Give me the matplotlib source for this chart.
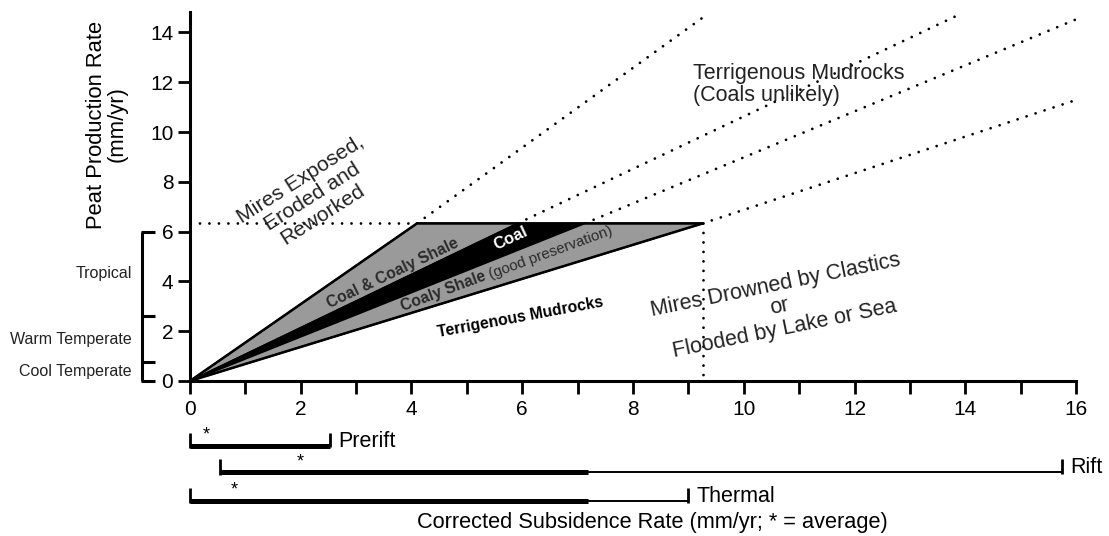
import matplotlib
matplotlib.use("Agg")
import matplotlib.pyplot as plt
import matplotlib.transforms as mtransforms
from matplotlib.patches import Polygon

plt.rcParams["font.family"] = ["Liberation Sans", "DejaVu Sans"]

# peat production ceiling and where each facies boundary (through origin) meets it
ceiling = 6.33
edge_x = [4.1, 5.92, 7.13, 9.26]
band_colors = ["#9a9a9a", "black", "#9a9a9a"]

# far ends of the dotted continuations (x, y)
dotted_end_x = [9.3, 13.95, 16.06, 16.06]
dotted_end_y = [14.66, 14.78, 14.58, 11.33]

# climate bracket on the left
climate_bounds = [0, 0.75, 2.6, 6.0]
climate_names = ["Cool Temperate", "Warm Temperate", "Tropical"]

# subsidence ranges below the x axis
settings = ["Prerift", "Rift", "Thermal"]
range_start = [0, 0.54, 0]
thick_end = [2.52, 7.18, 7.18]
range_end = [2.52, 15.75, 9.0]
average = [0.3, 2.0, 0.8]

x_ticks = list(range(0, 17))
y_ticks = [0, 2, 4, 6, 8, 10, 12, 14]


def draw_wedge(ax):
    for i, c in enumerate(band_colors):
        pts = [(0, 0), (edge_x[i], ceiling), (edge_x[i + 1], ceiling)]
        ax.add_patch(Polygon(pts, closed=True, facecolor=c, edgecolor="black",
                             linewidth=1.3, zorder=3))
    ax.add_patch(Polygon([(0, 0), (edge_x[0], ceiling), (edge_x[-1], ceiling)],
                         closed=True, fill=False, edgecolor="black",
                         linewidth=1.8, zorder=4))


def draw_dotted(ax):
    dot = dict(color="black", linestyle=(0, (0.01, 3.4)), linewidth=2.0,
               dash_capstyle="round", clip_on=False, zorder=2)
    ax.plot([0, edge_x[0]], [ceiling, ceiling], **dot)
    for x0, x1, y1 in zip(edge_x, dotted_end_x, dotted_end_y):
        ax.plot([x0, x1], [ceiling, y1], **dot)
    ax.plot([edge_x[-1], edge_x[-1]], [ceiling, 0], **dot)


def draw_climate(ax):
    bx, tick_x = -0.87, -0.63
    kw = dict(color="black", linewidth=2.2, clip_on=False, solid_capstyle="butt")
    ax.plot([bx, bx], [climate_bounds[0], climate_bounds[-1]], **kw)
    for b in climate_bounds:
        ax.plot([bx - 0.02, tick_x], [b, b], **kw)
    for lo, hi, name in zip(climate_bounds[:-1], climate_bounds[1:], climate_names):
        ax.text(-1.05, (lo + hi) / 2, name, ha="right", va="center",
                fontsize=11.5, color="#222222")


def draw_ranges(ax):
    trans = mtransforms.blended_transform_factory(ax.transData, ax.transAxes)
    rows = [-0.176, -0.248, -0.326]
    tick_h = 0.036
    for i, name in enumerate(settings):
        y = rows[i]
        kw = dict(color="black", transform=trans, clip_on=False,
                  solid_capstyle="butt")
        ax.plot([range_start[i], thick_end[i]], [y, y], linewidth=3.6, **kw)
        if range_end[i] > thick_end[i]:
            ax.plot([thick_end[i], range_end[i]], [y, y], linewidth=1.4, **kw)
        ax.plot([range_start[i], range_start[i]], [y - 0.006, y + tick_h],
                linewidth=2.0, **kw)
        ax.plot([range_end[i], range_end[i]], [y - 0.004, y + tick_h],
                linewidth=2.0, **kw)
        ax.text(average[i], y + 0.006, "*", transform=trans, ha="center",
                va="bottom", fontsize=13)
        ax.text(range_end[i] + 0.15, y + 0.012, name, transform=trans,
                ha="left", va="center", fontsize=15.5)


def main():
    fig = plt.figure(figsize=(11.09, 5.36), dpi=100)
    ax = fig.add_axes([0.1713, 0.2892, 0.799, 0.6875])
    ax.set_xlim(0, 16)
    ax.set_ylim(0, 14.8)
    for s in ["top", "right"]:
        ax.spines[s].set_visible(False)
    for s in ["left", "bottom"]:
        ax.spines[s].set_linewidth(2.2)
    ax.set_xticks(x_ticks)
    ax.set_xticklabels([str(t) if t % 2 == 0 else "" for t in x_ticks])
    ax.set_yticks(y_ticks)
    ax.tick_params(direction="out", length=9, width=2.0, labelsize=15)
    ax.tick_params(axis="x", pad=5)
    ax.tick_params(axis="y", pad=3)

    draw_wedge(ax)
    draw_dotted(ax)
    draw_climate(ax)
    draw_ranges(ax)

    ax.text(-0.0937, 0.696, "Peat Production Rate\n(mm/yr)", transform=ax.transAxes,
            rotation=90, ha="center", va="center", multialignment="center",
            fontsize=15.8, linespacing=1.0)
    ax.text(0.522, -0.385, "Corrected Subsidence Rate (mm/yr; * = average)",
            transform=ax.transAxes, ha="center", va="center", fontsize=15.7)

    ax.text(9.08, 11.9, "Terrigenous Mudrocks\n(Coals unlikely)", ha="left",
            va="center", fontsize=15.5, linespacing=1.05, color="#222222")
    ax.text(2.2, 7.39, "Mires Exposed,\nEroded and\nReworked", ha="center",
            va="center", rotation=32.5, fontsize=15.3, linespacing=1.12,
            color="#222222", zorder=5)
    ax.text(10.65, 2.97, "Mires Drowned by Clastics\nor\nFlooded by Lake or Sea",
            ha="center", va="center", rotation=11.5, fontsize=15.5, linespacing=1.08,
            color="#222222", zorder=5)

    ax.text(3.66, 4.32, "Coal & Coaly Shale", ha="center", va="center",
            rotation=25.5, fontsize=11.3, fontweight="bold", color="#2a2a2a",
            zorder=6)
    ax.text(5.79, 5.72, "Coal", ha="center", va="center", rotation=25,
            fontsize=12, fontweight="bold", color="white", zorder=6)
    ax.text(5.37, 4.06, "Coaly Shale", ha="right", va="baseline", rotation=20.5,
            rotation_mode="anchor", fontsize=11.3, fontweight="bold",
            color="#2a2a2a", zorder=6)
    ax.text(5.37, 4.06, " (good preservation)", ha="left", va="baseline",
            rotation=20, rotation_mode="anchor", fontsize=10.8, color="#2a2a2a",
            zorder=6)
    ax.text(5.96, 2.57, "Terrigenous Mudrocks", ha="center", va="center",
            rotation=10.5, fontsize=11.3, fontweight="bold", color="black", zorder=6)

    fig.savefig("out.png", dpi=100)
    plt.close(fig)


if __name__ == "__main__":
    main()
